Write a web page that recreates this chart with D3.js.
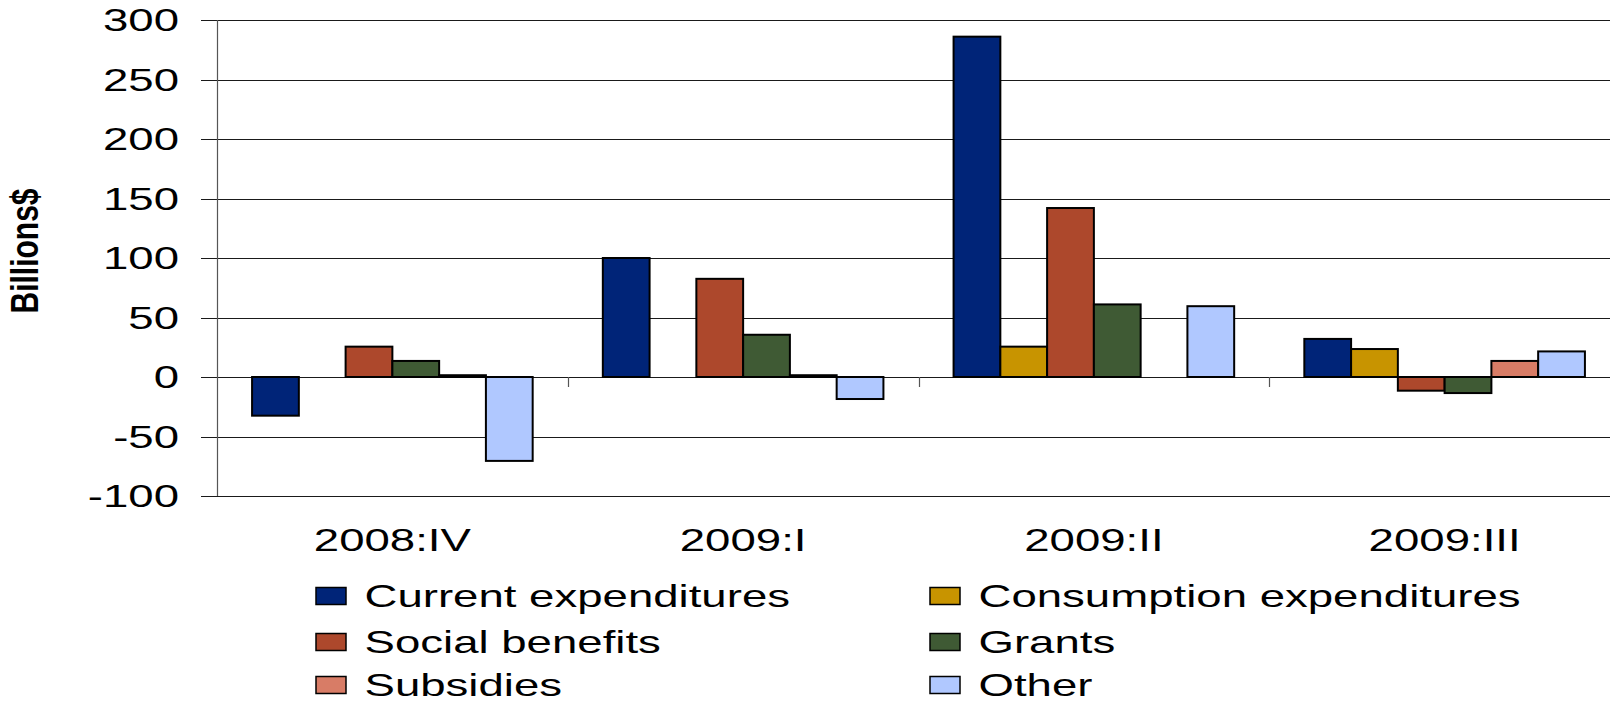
<!DOCTYPE html>
<html>
<head>
<meta charset="utf-8">
<script src="https://cdn.jsdelivr.net/npm/d3@7"></script>
<style>
  html, body { margin: 0; padding: 0; background: #fff; }
  svg { display: block; }
  text { font-family: "Liberation Sans", Arial, sans-serif; fill: #000; }
</style>
</head>
<body>
<svg id="chart" width="1610" height="703"></svg>
<script>
// ---- data ----
const categories = ["2008:IV", "2009:I", "2009:II", "2009:III"];
const seriesNames = ["Current expenditures", "Consumption expenditures", "Social benefits", "Grants", "Subsidies", "Other"];
const seriesColors = ["#002478", "#C89400", "#AD482C", "#3F5A34", "#D87C66", "#B0C8FF"];
const currentExpenditures     = [-32.5, 100, 286, 32];
const consumptionExpenditures = [0, 0, 25.5, 23.5];
const socialBenefits          = [25.5, 82.5, 142, -11.5];
const grants                  = [13.5, 35.5, 61, -13.5];
const subsidies               = [1.5, 1.5, 0, 13.5];
const other                   = [-70.5, -18.5, 59.5, 21.5];
const yTicks = [-100, -50, 0, 50, 100, 150, 200, 250, 300];
const yLabel = "Billions$";

const seriesValues = [currentExpenditures, consumptionExpenditures, socialBenefits, grants, subsidies, other];

// ---- layout ----
const SX = 1.47;          // horizontal stretch of the reference's text
const FS = 31;
const plotLeft = 217, plotRight = 1620, plotTop = 20, plotBottom = 496;

const svg = d3.select("#chart");

const y = d3.scaleLinear().domain([-100, 300]).range([plotBottom, plotTop]);
const x0 = d3.scaleBand().domain(categories).range([plotLeft, plotRight]).paddingInner(0).paddingOuter(0);
const x1 = d3.scaleBand().domain(seriesNames).range([0, x0.bandwidth()]).paddingInner(0).paddingOuter(0.75);

// gridlines + y ticks
svg.append("g").selectAll("line").data(yTicks).join("line")
  .attr("x1", plotLeft - 16).attr("x2", 1610)
  .attr("y1", d => Math.round(y(d)) + 0.5).attr("y2", d => Math.round(y(d)) + 0.5)
  .attr("stroke", "#1a1a1a").attr("stroke-width", 1.2);

// y axis line
svg.append("line")
  .attr("x1", plotLeft + 0.5).attr("x2", plotLeft + 0.5)
  .attr("y1", y(300)).attr("y2", y(-100))
  .attr("stroke", "#555").attr("stroke-width", 1.2);

// category tick marks below zero line
svg.append("g").selectAll("line").data(categories.slice(1)).join("line")
  .attr("x1", d => Math.round(x0(d)) + 0.5).attr("x2", d => Math.round(x0(d)) + 0.5)
  .attr("y1", y(0)).attr("y2", y(0) + 10)
  .attr("stroke", "#555").attr("stroke-width", 1.2);

// y tick labels
svg.append("g").selectAll("text").data(yTicks).join("text")
  .attr("transform", d => `translate(179,${y(d) + 11}) scale(${SX},1)`)
  .attr("text-anchor", "end")
  .attr("font-size", FS)
  .text(d => d);

// y axis title
svg.append("text")
  .attr("transform", `translate(38,251) scale(${SX},1) rotate(-90)`)
  .attr("text-anchor", "middle")
  .attr("font-size", 27)
  .attr("font-weight", "bold")
  .attr("textLength", 125)
  .attr("lengthAdjust", "spacingAndGlyphs")
  .text(yLabel);

// bars
const barData = [];
categories.forEach((c, ci) => {
  seriesNames.forEach((s, si) => {
    barData.push({ cat: c, series: s, value: seriesValues[si][ci], color: seriesColors[si] });
  });
});
svg.append("g").selectAll("rect").data(barData.filter(d => d.value !== 0)).join("rect")
  .attr("x", d => x0(d.cat) + x1(d.series))
  .attr("width", x1.bandwidth())
  .attr("y", d => y(Math.max(0, d.value)))
  .attr("height", d => Math.abs(y(d.value) - y(0)))
  .attr("fill", d => d.color)
  .attr("stroke", "#000")
  .attr("stroke-width", 2);

// category labels
svg.append("g").selectAll("text").data(categories).join("text")
  .attr("transform", d => `translate(${x0(d) + x0.bandwidth() / 2},551) scale(${SX},1)`)
  .attr("text-anchor", "middle")
  .attr("font-size", FS)
  .text(d => d);

// legend
const legCols = [316, 930];
const legTextX = [364.5, 978.5];
const legRows = [596, 642, 685];
const leg = svg.append("g").selectAll("g").data(seriesNames).join("g")
  .attr("transform", (d, i) => `translate(${legCols[i % 2]},${legRows[Math.floor(i / 2)]})`);
leg.append("rect")
  .attr("x", 0).attr("y", -8.5).attr("width", 30).attr("height", 17)
  .attr("fill", (d, i) => seriesColors[i])
  .attr("stroke", "#000").attr("stroke-width", 1.5);
leg.append("text")
  .attr("transform", (d, i) => `translate(${legTextX[i % 2] - legCols[i % 2]},11) scale(${SX},1)`)
  .attr("font-size", FS)
  .text(d => d);
</script>
</body>
</html>
